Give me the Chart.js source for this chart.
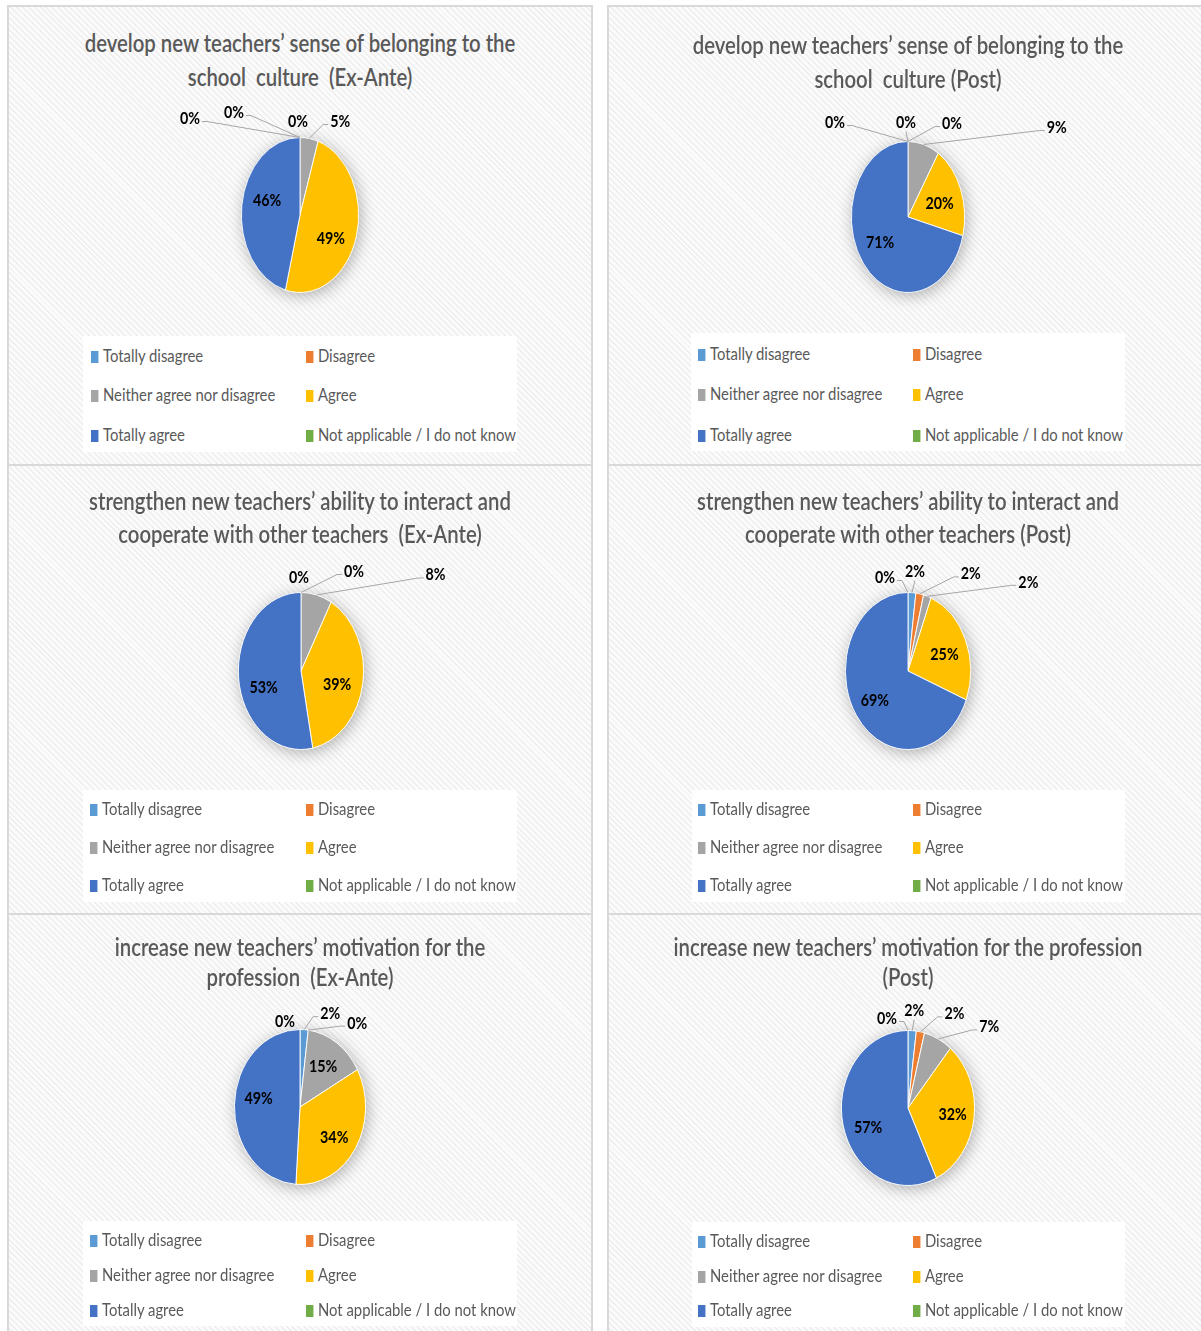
<!DOCTYPE html>
<html>
<head>
<meta charset="utf-8">
<title>New teachers – survey results</title>
<script src="https://cdn.jsdelivr.net/npm/chart.js@4.4.1/dist/chart.umd.min.js"></script>
<style>
  html, body { margin: 0; padding: 0; background: #ffffff; }
  body { position: relative; width: 1201px; height: 1331px; overflow: hidden; font-family: Lato, "Open Sans", "DejaVu Sans", sans-serif; }
  .panel {
    position: absolute; box-sizing: border-box; border: 2px solid #d9d9d9;
    background-color: #fbfbfb;
    background-image: repeating-linear-gradient(45deg, rgba(0,0,0,0.05) 0 1.4px, rgba(0,0,0,0) 1.4px 4.2px);
  }
  .legend-box { position: absolute; background: rgba(255,255,255,0.93); }
  .chart-box { position: absolute; }
  .title {
    position: absolute; width: 900px; text-align: center; color: #595959;
    font-size: 25px; font-weight: 600; white-space: pre; transform: scaleX(0.813); transform-origin: 50% 0;
  }
  .item {
    position: absolute; height: 24px; line-height: 24px; font-size: 18px; color: #595959;
    white-space: pre; transform: scaleX(0.825); transform-origin: 0 50%;
  }
  .swatch { display: inline-block; width: 8.5px; height: 12px; margin-right: 6px; vertical-align: -1px; }
</style>
</head>
<body>
<script>
// Answer categories, in slice order (clockwise from 12 o'clock)
const CATEGORIES = [
  'Totally disagree',
  'Disagree',
  'Neither agree nor disagree',
  'Agree',
  'Totally agree',
  'Not applicable / I do not know'
];

// Share of answers (%) per category
const BELONGING_EX_ANTE   = [0, 0, 5, 49, 46, 0];
const BELONGING_POST      = [0, 0, 9, 20, 71, 0];
const COOPERATION_EX_ANTE = [0, 0, 8, 39, 53, 0];
const COOPERATION_POST    = [2, 2, 2, 25, 69, 0];
const MOTIVATION_EX_ANTE  = [2, 0, 15, 34, 49, 0];
const MOTIVATION_POST     = [2, 2, 7, 32, 57, 0];

const TITLES = [
  ['develop new teachers’ sense of belonging to the', 'school  culture  (Ex-Ante)'],
  ['develop new teachers’ sense of belonging to the', 'school  culture (Post)'],
  ['strengthen new teachers’ ability to interact and', 'cooperate with other teachers  (Ex-Ante)'],
  ['strengthen new teachers’ ability to interact and', 'cooperate with other teachers (Post)'],
  ['increase new teachers’ motivation for the', 'profession  (Ex-Ante)'],
  ['increase new teachers’ motivation for the profession', '(Post)']
];

const SERIES = [
  BELONGING_EX_ANTE, BELONGING_POST,
  COOPERATION_EX_ANTE, COOPERATION_POST,
  MOTIVATION_EX_ANTE, MOTIVATION_POST
];

// ---- styling / layout ----
const COLORS = ['#5B9BD5', '#ED7D31', '#A5A5A5', '#FFC000', '#4472C4', '#70AD47'];
const TEXT_SQUASH = 0.84;

// panel frames, pie centre / radii, title + legend placement (page pixels)
const FRAMES = [
  { x: 7,   y: 5,   w: 586, h: 461, cx: 300, cy: 215,  rx: 59, ry: 78, tx: 300, tTop: 25,  tLH: 34, box: [83, 336, 434, 116],  col: [91, 306],  rows: [355, 394, 434] },
  { x: 607, y: 5,   w: 596, h: 461, cx: 908, cy: 217,  rx: 57, ry: 76, tx: 908, tTop: 27,  tLH: 34, box: [691, 333, 434, 118], col: [698, 913], rows: [353, 393, 434] },
  { x: 7,   y: 464, w: 586, h: 451, cx: 301, cy: 671,  rx: 63, ry: 79, tx: 300, tTop: 484, tLH: 33, box: [83, 790, 434, 112],  col: [90, 306],  rows: [808, 846, 884] },
  { x: 607, y: 464, w: 596, h: 451, cx: 908, cy: 671,  rx: 63, ry: 79, tx: 908, tTop: 484, tLH: 33, box: [692, 790, 433, 112], col: [698, 913], rows: [808, 846, 884] },
  { x: 7,   y: 913, w: 586, h: 430, cx: 300, cy: 1107, rx: 66, ry: 78, tx: 300, tTop: 931, tLH: 30, box: [83, 1221, 434, 105], col: [90, 306],  rows: [1239, 1274, 1309] },
  { x: 607, y: 913, w: 596, h: 430, cx: 908, cy: 1108, rx: 67, ry: 78, tx: 908, tTop: 931, tLH: 30, box: [692, 1222, 433, 105], col: [698, 913], rows: [1240, 1275, 1309] }
];

// where each percentage label sits:
//   ['in', dx, dy]  = inside its slice (nudged by dx, dy)
//   [dx, dy]        = callout offset from the slice's outer edge
//   null            = no label
const LABEL_SPOTS = [
  [[-66, -25], [-2, -16], [31, -17], ['in', -3, 11], ['in', 2, -9], [-110, -19]],
  [[-73, -19], [-2, -19], [133, -17], ['in', 0, 3], ['in', -1, -2], [44, -18]],
  [[-2, -15], [53, -21], [119, -20], ['in', -1, 6], ['in', 0, 12], null],
  [[3, -21], [51, -20], [101, -14], ['in', 2, 2], ['in', -2, 3], [-23, -15]],
  [[26, -16], [49, -7], ['in', 1, -2], ['in', 1, 6], ['in', -2, -7], [-15, -8]],
  [[2, -20], [34, -18], [51, -12], ['in', 5, 1], ['in', -1, 9], [-21, -12]]
];

// Draws the pie as an ellipse with a soft shadow, then the percentage labels.
const ellipsePie = {
  id: 'ellipsePie',
  beforeDatasetsDraw(chart, args, opts) {
    const arc = chart.getDatasetMeta(0).data[0];
    if (!arc) return;
    const { x, y, outerRadius } = arc;
    const ctx = chart.ctx;
    ctx.save();
    ctx.beginPath();
    ctx.ellipse(x, y, outerRadius * opts.squash, outerRadius, 0, 0, Math.PI * 2);
    ctx.shadowColor = 'rgba(0,0,0,0.30)';
    ctx.shadowBlur = 16;
    ctx.shadowOffsetX = 2;
    ctx.shadowOffsetY = 3;
    ctx.fillStyle = '#ffffff';
    ctx.fill();
    ctx.restore();
    ctx.save();
    ctx.translate(x, y);
    ctx.scale(opts.squash, 1);
    ctx.translate(-x, -y);
  },
  afterDatasetsDraw(chart, args, opts) {
    const ctx = chart.ctx;
    ctx.restore();
    const meta = chart.getDatasetMeta(0);
    const values = chart.data.datasets[0].data;
    ctx.save();
    ctx.font = 'bold 17px Lato, "Open Sans", sans-serif';
    ctx.textAlign = 'center';
    ctx.textBaseline = 'middle';
    meta.data.forEach((arc, i) => {
      const spot = opts.spots[i];
      if (spot === null || spot === undefined) return;
      const { x, y, startAngle, endAngle, outerRadius } = arc;
      const mid = (startAngle + endAngle) / 2;
      const text = values[i] + '%';
      let lx, ly;
      if (spot[0] === 'in') {
        lx = x + Math.cos(mid) * outerRadius * 0.6 * opts.squash + spot[1];
        ly = y + Math.sin(mid) * outerRadius * 0.6 + spot[2];
      } else {
        const ax = x + Math.cos(mid) * outerRadius * opts.squash;
        const ay = y + Math.sin(mid) * outerRadius;
        lx = ax + spot[0];
        ly = ay + spot[1];
        const halfW = ctx.measureText(text).width * TEXT_SQUASH / 2;
        if (Math.hypot(spot[0], spot[1]) > 18) {
          ctx.beginPath();
          ctx.strokeStyle = '#a6a6a6';
          ctx.lineWidth = 1;
          if (ax > lx + halfW) {
            const sx = lx + halfW + 2, sy = ly + 3;
            ctx.moveTo(sx, sy); ctx.lineTo(sx + 5, sy); ctx.lineTo(ax, ay);
          } else if (ax < lx - halfW) {
            const sx = lx - halfW - 2, sy = ly + 3;
            ctx.moveTo(sx, sy); ctx.lineTo(sx - 5, sy); ctx.lineTo(ax, ay);
          } else {
            ctx.moveTo(lx, ly + 9); ctx.lineTo(ax, ay);
          }
          ctx.stroke();
        }
      }
      ctx.save();
      ctx.translate(lx, ly);
      ctx.scale(TEXT_SQUASH, 1);
      ctx.fillStyle = '#000000';
      ctx.fillText(text, 0, 0);
      ctx.restore();
    });
    ctx.restore();
  }
};

function place(el, left, top, width, height) {
  el.style.left = left + 'px';
  el.style.top = top + 'px';
  if (width !== undefined) el.style.width = width + 'px';
  if (height !== undefined) el.style.height = height + 'px';
}

FRAMES.forEach((f, i) => {
  const panel = document.createElement('div');
  panel.className = 'panel';
  place(panel, f.x, f.y, f.w, f.h);
  document.body.appendChild(panel);

  const lbox = document.createElement('div');
  lbox.className = 'legend-box';
  place(lbox, f.box[0], f.box[1], f.box[2], f.box[3]);
  document.body.appendChild(lbox);

  const title = document.createElement('div');
  title.className = 'title';
  title.style.lineHeight = f.tLH + 'px';
  title.textContent = TITLES[i].join('\n');
  place(title, f.tx - 450, f.tTop);
  document.body.appendChild(title);

  CATEGORIES.forEach((name, k) => {
    const item = document.createElement('div');
    item.className = 'item';
    const sw = document.createElement('span');
    sw.className = 'swatch';
    sw.style.background = COLORS[k];
    item.appendChild(sw);
    item.appendChild(document.createTextNode(name));
    place(item, f.col[k % 2], f.rows[Math.floor(k / 2)] - 12);
    document.body.appendChild(item);
  });

  const holder = document.createElement('div');
  holder.className = 'chart-box';
  place(holder, f.x, f.y, f.w, f.h);
  const canvas = document.createElement('canvas');
  holder.appendChild(canvas);
  document.body.appendChild(holder);

  new Chart(canvas, {
    type: 'pie',
    data: {
      labels: CATEGORIES,
      datasets: [{
        data: SERIES[i],
        backgroundColor: COLORS,
        borderColor: '#ffffff',
        borderWidth: 1
      }]
    },
    options: {
      responsive: true,
      maintainAspectRatio: false,
      animation: false,
      events: [],
      layout: {
        padding: {
          left: f.cx - f.x - f.ry,
          right: f.x + f.w - f.cx - f.ry,
          top: f.cy - f.y - f.ry,
          bottom: f.y + f.h - f.cy - f.ry
        }
      },
      plugins: {
        legend: { display: false },
        tooltip: { enabled: false },
        title: { display: false },
        ellipsePie: { squash: f.rx / f.ry, spots: LABEL_SPOTS[i] }
      }
    },
    plugins: [ellipsePie]
  });
});
</script>
</body>
</html>
